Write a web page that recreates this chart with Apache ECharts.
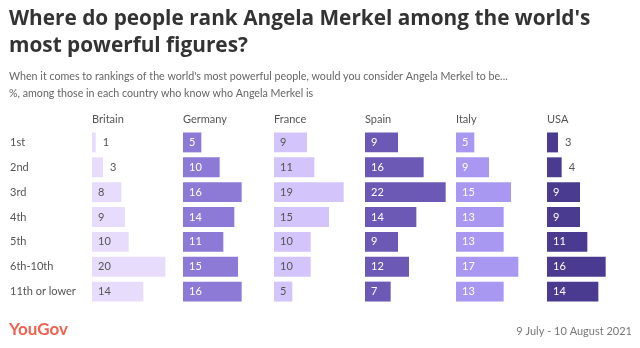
<!DOCTYPE html>
<html>
<head>
<meta charset="utf-8">
<script src="https://cdn.jsdelivr.net/npm/echarts@6/dist/echarts.min.js"></script>
<style>html,body{margin:0;padding:0;background:#fff}#c{width:640px;height:348px}</style>
</head>
<body>
<div id="c"></div>
<script>
const categories = ["1st", "2nd", "3rd", "4th", "5th", "6th-10th", "11th or lower"];
const countries = ["Britain", "Germany", "France", "Spain", "Italy", "USA"];
const britain = [1, 3, 8, 9, 10, 20, 14];
const germany = [5, 10, 16, 14, 11, 15, 16];
const france = [9, 11, 19, 15, 10, 10, 5];
const spain = [9, 16, 22, 14, 9, 12, 7];
const italy = [5, 9, 15, 13, 13, 17, 13];
const usa = [3, 4, 9, 9, 11, 16, 14];
const seriesValues = [britain, germany, france, spain, italy, usa];
const colors = ["#e8dcfc", "#8c7ad6", "#d3c4fb", "#6b59b5", "#a998f1", "#4a3b91"];
const labelColors = ["#555555", "#ffffff", "#555555", "#ffffff", "#ffffff", "#ffffff"];

const chart = echarts.init(document.getElementById('c'));
const FONT = 'Lato, "Open Sans", sans-serif';
const TFONT = '"Open Sans", Lato, sans-serif';
const grids = [], xAxes = [], yAxes = [], series = [], titles = [];
const gLeft0 = 92, gStep = 91, gWidth = 88, gTop = 130, gHeight = 174;
titles.push({text: "Where do people rank Angela Merkel among the world's\nmost powerful figures?", left: 9, top: 6, padding: 0,
  textStyle: {fontFamily: TFONT, fontSize: 20.8, fontWeight: 'bold', color: '#333', lineHeight: 27}});
titles.push({text: "When it comes to rankings of the world's most powerful people, would you consider Angela Merkel to be...\n%, among those in each country who know who Angela Merkel is", left: 9, top: 68, padding: 0,
  textStyle: {fontFamily: FONT, fontSize: 10.7, fontWeight: 'normal', color: '#666', lineHeight: 17}});
titles.push({text: "YouGov", left: 9, top: 321, padding: 0, textStyle: {fontFamily: FONT, fontSize: 17, fontWeight: 'bold', color: '#f0614f'}});
titles.push({text: "9 July - 10 August 2021", right: 8, top: 326, padding: 0, textStyle: {fontFamily: FONT, fontSize: 11, fontWeight: 'normal', color: '#777'}});
countries.forEach((c, i) => {
  const gl = gLeft0 + gStep * i;
  titles.push({text: c, left: gl, top: 114, padding: 0, textStyle: {fontFamily: FONT, fontSize: 11, fontWeight: 'normal', color: '#555'}});
  grids.push({left: gl, top: gTop, width: gWidth, height: gHeight});
  xAxes.push({gridIndex: i, type: 'value', min: 0, max: 24, show: false});
  yAxes.push({gridIndex: i, type: 'category', data: categories, inverse: true,
    axisLine: {show: false}, axisTick: {show: false}, splitLine: {show: false},
    axisLabel: {show: i === 0, align: 'left', margin: 82, fontFamily: FONT, fontSize: 11, color: '#555'}});
  series.push({type: 'bar', xAxisIndex: i, yAxisIndex: i, barCategoryGap: '20%',
    itemStyle: {color: colors[i]},
    data: seriesValues[i].map(v => ({value: v,
      label: v < 5 ? {position: 'right', distance: 7, color: '#555'} : {position: 'insideLeft', distance: 6, color: labelColors[i]}})),
    label: {show: true, fontFamily: FONT, fontSize: 11},
    silent: true, animation: false});
});
chart.setOption({animation: false, title: titles, grid: grids, xAxis: xAxes, yAxis: yAxes, series: series});
</script>
</body>
</html>
